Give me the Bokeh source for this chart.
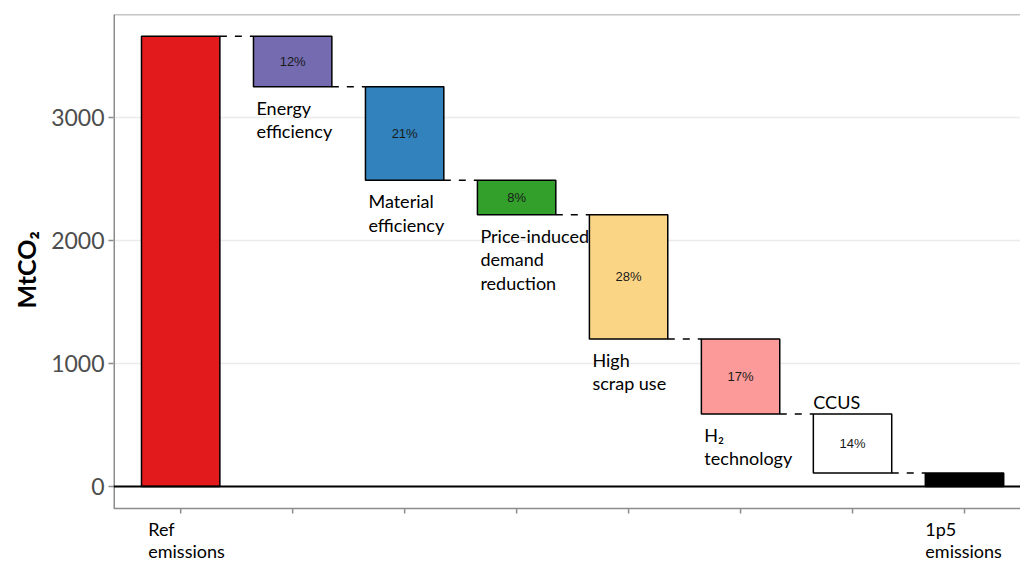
from bokeh.plotting import figure
from bokeh.models import ColumnDataSource, FixedTicker, Span, Range1d, Title
from bokeh.core.properties import value
from bokeh.embed import file_html
from bokeh.resources import INLINE

# ---------------- data ----------------
categories = ["Ref emissions", "Energy efficiency", "Material efficiency",
              "Price-induced demand reduction", "High scrap use",
              "H2 technology", "CCUS", "1p5 emissions"]
ref_value = 3660
reductions = [410, 760, 280, 1010, 610, 480]
final_value = 110
pct_labels = ["12%", "21%", "8%", "28%", "17%", "14%"]
step_labels = ["Energy\nefficiency", "Material\nefficiency",
               "Price-induced\ndemand\nreduction", "High\nscrap use",
               "H\u2082\ntechnology", "CCUS"]
step_label_side = ["below", "below", "below", "below", "below", "above"]
end_labels = ["Ref\nemissions", "1p5\nemissions"]
bar_colors = ["#E31A1C", "#756BB1", "#3182BD", "#33A02C", "#FAD585",
              "#FB9A99", "#FFFFFF", "#000000"]
y_ticks = [0, 1000, 2000, 3000]
y_title = "MtCO\u2082"

# ---------------- derived geometry ----------------
n = len(categories)
xs = list(range(1, n + 1))
tops, bottoms = [ref_value], [0]
level = ref_value
for r in reductions:
    tops.append(level)
    level -= r
    bottoms.append(level)
tops.append(final_value)
bottoms.append(0)

bw = 0.7
W, H = 1020, 563
ml, mt = 113, 14
y_end, y_start = 3837, -626       # frame runs to the bottom of the canvas
panel_bottom = -179               # visible panel border
x_start, x_end = 0.4, 8.5
ppu = (H - mt) / (y_end - y_start)
tick_len = 5 / ppu

p = figure(width=W, height=H, output_backend="svg", toolbar_location=None,
           x_range=Range1d(x_start, x_end), y_range=Range1d(y_start, y_end),
           min_border_left=ml, min_border_right=0, min_border_top=mt,
           min_border_bottom=0)
p.outline_line_color = None
p.background_fill_color = "white"
p.border_fill_color = "white"
p.xaxis.visible = False

GRAY = "#8C8C8C"

# grid
p.xgrid.grid_line_color = None
p.ygrid.grid_line_color = "#EBEBEB"
p.ygrid.grid_line_width = 1.5
p.ygrid.ticker = FixedTicker(ticks=y_ticks)

# y axis
yax = p.yaxis[0]
yax.ticker = FixedTicker(ticks=y_ticks)
yax.axis_line_color = None
yax.major_tick_line_color = GRAY
yax.major_tick_line_width = 1.5
yax.major_tick_in = 0
yax.major_tick_out = 5
yax.minor_tick_line_color = None
yax.major_label_text_font = "Lato"
yax.major_label_text_font_size = "23px"
yax.major_label_text_color = "#4D4D4D"
yax.major_label_standoff = 4

# y title placed as a side title, anchored from the bottom of the frame
p.add_layout(Title(text=y_title, align="left", offset=255, standoff=16,
                   text_font="Lato", text_font_style="bold",
                   text_font_size="25px", text_color="black"), "left")

# panel borders (left, top, bottom) and x tick marks
p.segment(x0=[x_start], y0=[panel_bottom], x1=[x_start], y1=[y_end],
          line_color=GRAY, line_width=3)
p.segment(x0=[x_start], y0=[panel_bottom], x1=[x_end], y1=[panel_bottom],
          line_color=GRAY, line_width=1.5)
p.add_layout(Span(location=y_end, dimension="width", line_color=GRAY,
                  line_width=1.5))
p.segment(x0=xs, y0=[panel_bottom] * n, x1=xs, y1=[panel_bottom - tick_len] * n,
          line_color=GRAY, line_width=1.5)

# connectors
cx0, cx1, cy = [], [], []
for i in range(n - 1):
    lvl = bottoms[i] if i > 0 else tops[0]
    cx0.append(xs[i] + bw / 2)
    cx1.append(xs[i + 1] - bw / 2)
    cy.append(lvl)
p.segment(x0=cx0, y0=cy, x1=cx1, y1=cy, line_color="black", line_width=1.5,
          line_dash="7 8")

# bars
src = ColumnDataSource(dict(x=xs, top=tops, bottom=bottoms, color=bar_colors))
p.vbar(x="x", top="top", bottom="bottom", width=bw, source=src,
       fill_color="color", line_color="black", line_width=1.5)

# zero line
p.add_layout(Span(location=0, dimension="width", line_color="black",
                  line_width=2))

# percentage labels
mid_x = xs[1:n - 1]
mid_y = [(t + b) / 2 for t, b in zip(tops[1:n - 1], bottoms[1:n - 1])]
p.text(x=mid_x, y=mid_y, text=pct_labels, text_align="center",
       text_baseline="middle", text_font=value("Liberation Sans"),
       text_font_size="13px", text_color="#1A1A1A")

# step labels
for i, (lab, side) in enumerate(zip(step_labels, step_label_side)):
    k = i + 1
    if side == "below":
        p.text(x=[xs[k] - bw / 2], y=[bottoms[k]], text=[lab], x_offset=3,
               y_offset=10, text_align="left", text_baseline="top",
               text_font=value("Lato"), text_font_size="18px",
               text_line_height=1.07, text_color="black")
    else:
        p.text(x=[xs[k] - bw / 2], y=[tops[k]], text=[lab], x_offset=0,
               y_offset=-1, text_align="left", text_baseline="bottom",
               text_font=value("Lato"), text_font_size="18px",
               text_line_height=1.07, text_color="black")

# end category labels below the panel (left-aligned lines)
end_x = [xs[0] - 0.29, xs[-1] - 0.35]
p.text(x=end_x, y=[panel_bottom] * 2, text=end_labels, y_offset=9,
       text_align="left", text_baseline="top", text_font=value("Lato"),
       text_font_size="18px", text_line_height=1.0, text_color="black")

open("out.html", "w").write(file_html(p, INLINE))
